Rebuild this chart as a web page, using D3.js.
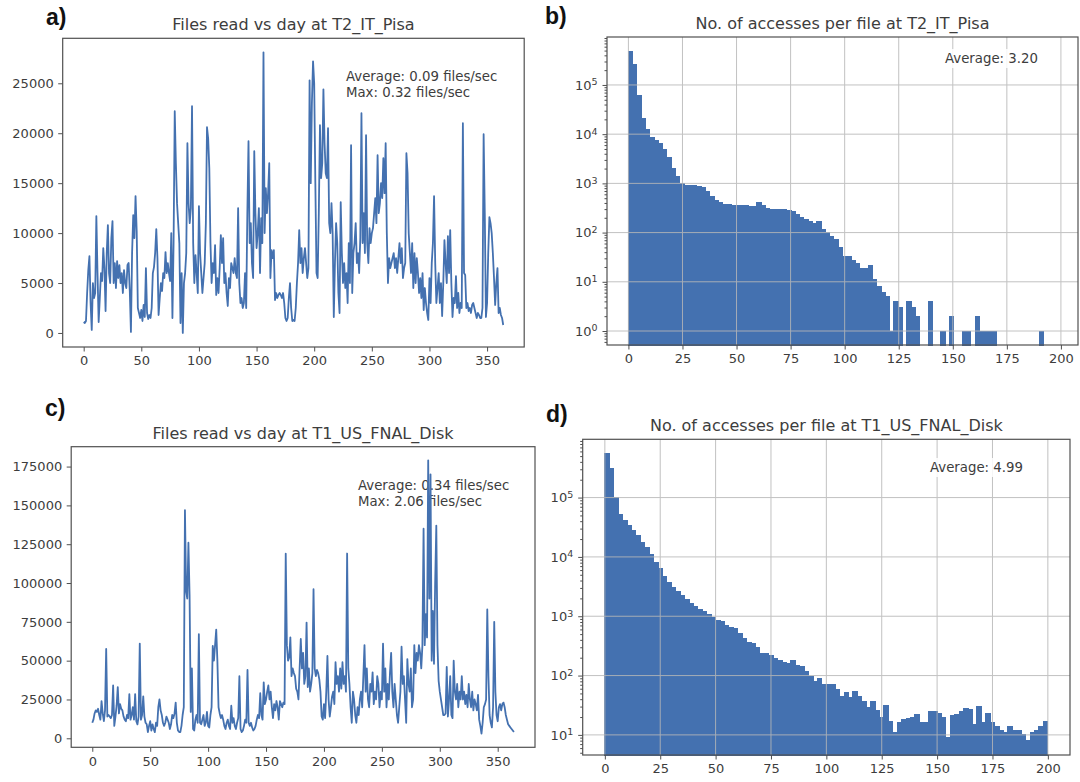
<!DOCTYPE html>
<html>
<head>
<meta charset="utf-8">
<script src="https://cdn.jsdelivr.net/npm/d3@7"></script>
<style>
  body { margin: 0; background: #fff; }
  svg { display: block; font-family: "DejaVu Sans", sans-serif; }
</style>
</head>
<body>
<svg id="chart" width="1080" height="782"></svg>
<script>
// ---- data ----
const days = d3.range(365);

// files read per day at T2_IT_Pisa
const pisaFilesRead = [
  1100, 1000, 1200, 4000, 6300, 7700, 3000, 300, 5000, 3500,
  4000, 11700, 6000, 1100, 3500, 6000, 5200, 8500, 6500, 2200,
  8000, 10800, 6000, 5000, 9500, 11200, 5000, 7000, 4500, 7200,
  5500, 6800, 5000, 6000, 4000, 6300, 5000, 4500, 6800, 7000,
  4200, 100, 8000, 11800, 9500, 13700, 10200, 2500, 2000, 1500,
  2300, 1200, 2800, 1600, 6500, 2000, 1400, 1800, 1500, 2500,
  6000, 6600, 8000, 10400, 7500, 1800, 3500, 5000, 4200, 6000,
  5500, 8100, 6000, 7000, 6000, 5200, 10000, 1500, 9000, 22200,
  17000, 13000, 11000, 9000, 1000, 6000, 0, 5000, 6000, 8000,
  19000, 13000, 11000, 12500, 22700, 9000, 5000, 7800, 6000, 4000,
  12700, 8000, 6000, 4000, 5500, 7000, 11000, 20600, 19500, 16500,
  9000, 5000, 7000, 6000, 8800, 3800, 5500, 4000, 6500, 9800,
  7000, 9500, 5000, 6000, 4000, 2700, 5500, 4500, 7000, 6500,
  6000, 7500, 6000, 5500, 12500, 5000, 3000, 3500, 2500, 3000,
  6000, 2500, 12000, 19200, 9000, 11000, 7000, 5500, 18200, 12000,
  8500, 10000, 12500, 6000, 11500, 9000, 28100, 10000, 14500, 12000,
  14000, 17000, 5500, 8300, 7500, 8300, 3300, 4000, 3500, 3800,
  4000, 3800, 3500, 4000, 3000, 1500, 1200, 1500, 3500, 5000,
  2500, 1200, 1300, 1200, 2500, 5000, 7000, 10300, 7000, 8500,
  6000, 7500, 8500, 7000, 5500, 6500, 25300, 15000, 23000, 27200,
  25000, 15000, 6000, 5500, 12000, 20800, 15500, 17000, 24400, 19000,
  16000, 15500, 20500, 11000, 10000, 13000, 10000, 1600, 7000, 11000,
  9000, 4000, 2000, 13100, 8000, 5000, 7000, 4500, 6000, 3000,
  9000, 5000, 18800, 4000, 8000, 9000, 11000, 7000, 8000, 6000,
  9500, 22000, 9000, 12000, 8000, 19800, 9000, 7000, 10500, 9000,
  10000, 10500, 12000, 13500, 11000, 17800, 12000, 13000, 15000, 13500,
  17500, 14000, 19000, 10000, 5000, 7500, 6500, 7000, 7500, 8000,
  6500, 7500, 6000, 7500, 9000, 7000, 8500, 5500, 6500, 7000,
  18000, 16000, 10000, 8000, 6000, 9000, 4500, 8000, 5000, 7500,
  6000, 4000, 5500, 3500, 6000, 2300, 4500, 3000, 2000, 1300,
  5500, 3000, 7000, 9000, 13700, 7000, 3000, 4500, 6000, 3000,
  5000, 1700, 5000, 9300, 7000, 5000, 9700, 6000, 10300, 5000,
  1600, 3500, 3000, 5700, 2500, 4000, 2000, 3000, 2500, 21000,
  6000, 5800, 2500, 3000, 2200, 2500, 2000, 2800, 3000, 2500,
  2000, 1500, 2000, 1800, 1500, 1500, 2500, 19900, 12000, 1600,
  3000, 8000, 11600, 11000, 10000, 8000, 5500, 2800, 5000, 6500,
  2000, 2500, 1800, 1500, 800
];

// files read per day at T1_US_FNAL_Disk
const fnalFilesRead = [
  10000, 12000, 16000, 18000, 17000, 19000, 15000, 12000, 24000, 16000,
  11000, 18000, 57500, 14000, 15000, 14000, 13000, 15000, 34000, 8000,
  14000, 21000, 33000, 16000, 22000, 19000, 18000, 14000, 12000, 11000,
  15000, 13000, 28500, 12000, 15000, 20000, 12000, 28500, 11000, 9000,
  14000, 61000, 12000, 15000, 27000, 14000, 10000, 9000, 4000, 8000,
  11000, 5000, 9000, 6000, 4000, 10000, 8000, 20000, 25000, 18000,
  15000, 10000, 8000, 10000, 14000, 12000, 10000, 6000, 9000, 15000,
  13000, 16000, 23000, 10000, 5000, 4000, 4000, 8000, 15000, 20000,
  147000, 95000, 90000, 126000, 92000, 17000, 45000, 6000, 5000, 12000,
  15000, 10000, 67000, 10000, 9000, 12000, 15000, 8000, 10000, 17000,
  8000, 7000, 15000, 20000, 59500, 50000, 60000, 70000, 50000, 20000,
  16000, 13000, 15000, 12000, 8000, 6000, 10000, 12000, 8000, 6000,
  21000, 10000, 13000, 8000, 6000, 10000, 13000, 40000, 6000, 4000,
  5000, 8000, 12000, 10000, 44000, 10000, 8000, 10000, 7000, 5000,
  6000, 8000, 12000, 15000, 13000, 29000, 15000, 12000, 36000, 22000,
  25000, 30000, 34000, 25000, 30000, 20000, 13000, 22000, 18000, 24000,
  20000, 12000, 24000, 22000, 20000, 23000, 22000, 119000, 60000, 50000,
  52000, 65000, 40000, 45000, 42000, 40000, 32000, 30000, 25000, 45000,
  64000, 45000, 55000, 35000, 40000, 74500, 33000, 45000, 30000, 35000,
  42000, 96000, 45000, 40000, 44000, 42000, 38000, 30000, 14000, 12000,
  22000, 13000, 30000, 53000, 25000, 14000, 20000, 27000, 30000, 22000,
  49000, 35000, 40000, 30000, 45000, 32000, 49000, 35000, 40000, 30000,
  119000, 45000, 35000, 20000, 10000, 30000, 25000, 15000, 10000, 20000,
  15000, 25000, 30000, 20000, 40000, 60000, 30000, 45000, 25000, 20000,
  35000, 30000, 42500, 22000, 30000, 25000, 40000, 35000, 20000, 30000,
  25000, 61000, 30000, 45000, 20000, 35000, 25000, 42000, 55000, 30000,
  20000, 35000, 25000, 15000, 10000, 20000, 30000, 59000, 35000, 40000,
  25000, 10000, 51000, 35000, 30000, 45000, 20000, 25000, 60000, 42000,
  55000, 50000, 60000, 55000, 45000, 60000, 135000, 60000, 80000, 65000,
  179000, 90000, 170000, 50000, 82000, 48000, 100000, 137000, 60000, 37000,
  30000, 25000, 20000, 15000, 15000, 16000, 46000, 14000, 25000, 40000,
  15000, 13000, 50000, 30000, 25000, 35000, 20000, 30000, 25000, 40000,
  25000, 30000, 22000, 28000, 20000, 35000, 25000, 20000, 30000, 18000,
  25000, 22000, 18000, 28000, 12000, 8000, 3000, 10000, 20000, 22000,
  25000, 83000, 40000, 15000, 10000, 7000, 20000, 75000, 30000, 15000,
  11000, 20000, 22000, 18000, 22000, 23000, 20000, 15000, 12000, 9000,
  8000, 7000, 6000, 5000, 4000
];

// histogram of accesses per file, 100 equal bins from 0 to binMax
const pisaBinMax = 198;
const pisaAccessCounts = [
  490000, 263000, 60000, 20400, 12300, 8700, 7600, 6600, 4800, 3300,
  2000, 1400, 1000, 910, 910, 890, 870, 830, 690, 550,
  440, 400, 380, 370, 360, 355, 350, 350, 345, 340,
  400, 355, 310, 300, 300, 300, 295, 280, 265, 235,
  205, 185, 170, 150, 165, 118, 100, 85, 72, 50,
  32, 32, 27, 23, 19, 19, 21, 11, 8, 6,
  5, 1, 4, 3, 0, 4, 3, 2, 0, 0,
  4, 0, 0, 1, 0, 2, 0, 0, 1, 1,
  0, 2, 1, 1, 1, 1, 0, 0, 0, 0,
  0, 0, 0, 0, 0, 0, 1, 0, 0, 0
];

const fnalBinMax = 200;
const fnalAccessCounts = [
  550000, 309000, 100000, 51000, 41000, 34000, 28000, 23000, 17700, 14200,
  11000, 8200, 6300, 4700, 3700, 3100, 2600, 2250, 1920, 1660,
  1470, 1310, 1180, 1080, 970, 860, 800, 700, 640, 620,
  510, 420, 355, 345, 300, 240, 240, 220, 193, 180,
  165, 160, 180, 150, 140, 115, 96, 79, 90, 72,
  72, 72, 59, 45, 52, 43, 54, 44, 36, 29,
  36, 26, 20, 31, 17, 11, 16, 18, 19, 20,
  22, 16, 16, 25, 25, 23, 20, 9, 21, 22,
  25, 28, 27, 15, 30, 16, 23, 16, 14, 12,
  11, 14, 12, 12, 10, 8, 11, 12, 14, 17
];

const dayTicks = [0, 50, 100, 150, 200, 250, 300, 350];
const accessTicks = [0, 25, 50, 75, 100, 125, 150, 175, 200];
const pisaYTicks = [0, 5000, 10000, 15000, 20000, 25000];
const fnalYTicks = [0, 25000, 50000, 75000, 100000, 125000, 150000, 175000];

// ---- styling ----
const blue = "#4471b0";
const textColor = "#3d3d3d";
const frameColor = "#505050";
const gridColor = "#b8b8b8";
const fontFamily = "'DejaVu Sans', sans-serif";

const svg = d3.select("#chart");

// matplotlib-like 5% margins
function padded(lo, hi) {
  const p = (hi - lo) * 0.05;
  return [lo - p, hi + p];
}

function styleAxis(sel) {
  sel.attr("font-size", 13).attr("font-family", fontFamily);
  sel.select(".domain").remove();
  sel.selectAll(".tick line").attr("stroke", frameColor).attr("stroke-width", 1);
  sel.selectAll(".tick text").attr("fill", textColor);
}

function drawFrame(g, box) {
  g.append("rect")
    .attr("x", box.left).attr("y", box.top)
    .attr("width", box.right - box.left)
    .attr("height", box.bottom - box.top)
    .attr("fill", "none")
    .attr("stroke", frameColor)
    .attr("stroke-width", 1.2);
}

function drawHeadings(g, p) {
  g.append("text")
    .attr("x", (p.box.left + p.box.right) / 2)
    .attr("y", p.box.top - 8)
    .attr("text-anchor", "middle")
    .attr("font-size", 16)
    .attr("fill", textColor)
    .text(p.title);

  g.append("text")
    .attr("x", p.label.x).attr("y", p.label.y)
    .attr("font-family", "'Liberation Sans', Arial, sans-serif")
    .attr("font-weight", "bold")
    .attr("font-size", 23)
    .attr("fill", "#111")
    .text(p.label.text);
}

function drawNote(g, note, withBox) {
  const t = g.append("text")
    .attr("font-size", 13.3)
    .attr("fill", textColor);
  note.lines.forEach((line, i) => {
    t.append("tspan").attr("x", note.x).attr("y", note.y + i * 16).text(line);
  });
  if (withBox) {
    const bb = t.node().getBBox();
    g.insert("rect", () => t.node())
      .attr("x", bb.x - 3).attr("y", bb.y - 2)
      .attr("width", bb.width + 6).attr("height", bb.height + 4)
      .attr("fill", "#fff").attr("opacity", 0.85);
  }
}

function drawLinePanel(p) {
  const g = svg.append("g");
  const x = d3.scaleLinear()
    .domain(padded(0, days.length - 1))
    .range([p.box.left, p.box.right]);
  const [lo, hi] = d3.extent(p.values);
  const y = d3.scaleLinear()
    .domain(padded(lo, hi))
    .range([p.box.bottom, p.box.top]);

  drawNote(g, p.note, false);

  g.append("path")
    .datum(p.values)
    .attr("fill", "none")
    .attr("stroke", blue)
    .attr("stroke-width", 1.8)
    .attr("stroke-linejoin", "round")
    .attr("d", d3.line().x((d, i) => x(days[i])).y(d => y(d)));

  g.append("g")
    .attr("transform", `translate(0,${p.box.bottom})`)
    .call(d3.axisBottom(x).tickValues(dayTicks).tickSize(4.5).tickPadding(4.5))
    .call(styleAxis);

  g.append("g")
    .attr("transform", `translate(${p.box.left},0)`)
    .call(d3.axisLeft(y).tickValues(p.yTicks).tickFormat(d3.format("d")).tickSize(4.5).tickPadding(4.5))
    .call(styleAxis);

  drawFrame(g, p.box);
  drawHeadings(g, p);
}

function drawHistPanel(p) {
  const g = svg.append("g");
  const binWidth = p.binMax / p.counts.length;
  const x = d3.scaleLinear()
    .domain(padded(0, p.binMax))
    .range([p.box.left, p.box.right]);
  const nonZero = p.counts.filter(c => c > 0);
  const [lo, hi] = padded(Math.log10(d3.min(nonZero)), Math.log10(d3.max(nonZero)));
  const y = d3.scaleLog()
    .domain([Math.pow(10, lo), Math.pow(10, hi)])
    .range([p.box.bottom, p.box.top]);

  const bins = p.counts.map((c, i) => ({ c, x0: i * binWidth, x1: (i + 1) * binWidth }))
    .filter(d => d.c > 0);

  // crisp edges plus a same-colour stroke so neighbouring bars leave no seams
  g.selectAll("rect.bar")
    .data(bins)
    .join("rect")
    .attr("class", "bar")
    .attr("x", d => x(d.x0))
    .attr("width", d => x(d.x1) - x(d.x0))
    .attr("y", d => y(d.c))
    .attr("height", d => p.box.bottom - y(d.c))
    .attr("fill", blue)
    .attr("stroke", blue)
    .attr("stroke-width", 1)
    .attr("shape-rendering", "crispEdges");

  const majors = [1, 10, 100, 1000, 10000, 100000].filter(v => v >= y.domain()[0] && v <= y.domain()[1]);
  const minors = [];
  for (let k = Math.floor(lo); k <= Math.ceil(hi); k++) {
    for (let m = 2; m <= 9; m++) {
      const v = m * Math.pow(10, k);
      if (v >= y.domain()[0] && v <= y.domain()[1]) minors.push(v);
    }
  }

  // grid on top of the bars
  const grid = g.append("g")
    .attr("stroke", gridColor)
    .attr("stroke-width", 1)
    .attr("opacity", 0.85);
  grid.selectAll("line.vx")
    .data(accessTicks.filter(v => x(v) <= p.box.right))
    .join("line")
    .attr("x1", d => x(d)).attr("x2", d => x(d))
    .attr("y1", p.box.top).attr("y2", p.box.bottom);
  grid.selectAll("line.hy")
    .data(majors)
    .join("line")
    .attr("x1", p.box.left).attr("x2", p.box.right)
    .attr("y1", d => y(d)).attr("y2", d => y(d));

  drawNote(g, p.note, true);

  g.append("g")
    .attr("transform", `translate(0,${p.box.bottom})`)
    .call(d3.axisBottom(x).tickValues(accessTicks).tickSize(4.5).tickPadding(4.5))
    .call(styleAxis);

  g.append("g")
    .attr("transform", `translate(${p.box.left},0)`)
    .call(d3.axisLeft(y).tickValues(minors).tickFormat("").tickSize(2.5))
    .call(styleAxis);

  const yAxis = g.append("g")
    .attr("transform", `translate(${p.box.left},0)`)
    .call(d3.axisLeft(y).tickValues(majors).tickSize(4.5).tickPadding(5))
    .call(styleAxis);
  yAxis.selectAll(".tick text")
    .text(null)
    .each(function (d) {
      const t = d3.select(this);
      t.append("tspan").text("10");
      t.append("tspan")
        .attr("dy", "-0.45em")
        .attr("font-size", 9.5)
        .text(Math.round(Math.log10(d)));
    });

  drawFrame(g, p.box);
  drawHeadings(g, p);
}

drawLinePanel({
  values: pisaFilesRead,
  yTicks: pisaYTicks,
  box: { left: 62.7, right: 524.2, top: 38.3, bottom: 347 },
  title: "Files read vs day at T2_IT_Pisa",
  label: { text: "a)", x: 46, y: 25 },
  note: { x: 346, y: 81, lines: ["Average: 0.09 files/sec", "Max: 0.32 files/sec"] }
});

drawHistPanel({
  counts: pisaAccessCounts,
  binMax: pisaBinMax,
  box: { left: 607, right: 1078, top: 37, bottom: 345 },
  title: "No. of accesses per file at T2_IT_Pisa",
  label: { text: "b)", x: 545, y: 24 },
  note: { x: 945, y: 63, lines: ["Average: 3.20"] }
});

drawLinePanel({
  values: fnalFilesRead,
  yTicks: fnalYTicks,
  box: { left: 71.2, right: 535, top: 446.7, bottom: 747.3 },
  title: "Files read vs day at T1_US_FNAL_Disk",
  label: { text: "c)", x: 45, y: 416 },
  note: { x: 358, y: 490, lines: ["Average: 0.34 files/sec", "Max: 2.06 files/sec"] }
});

drawHistPanel({
  counts: fnalAccessCounts,
  binMax: fnalBinMax,
  box: { left: 582.7, right: 1070, top: 439.3, bottom: 755 },
  title: "No. of accesses per file at T1_US_FNAL_Disk",
  label: { text: "d)", x: 546, y: 422 },
  note: { x: 930, y: 472, lines: ["Average: 4.99"] }
});
</script>
</body>
</html>
